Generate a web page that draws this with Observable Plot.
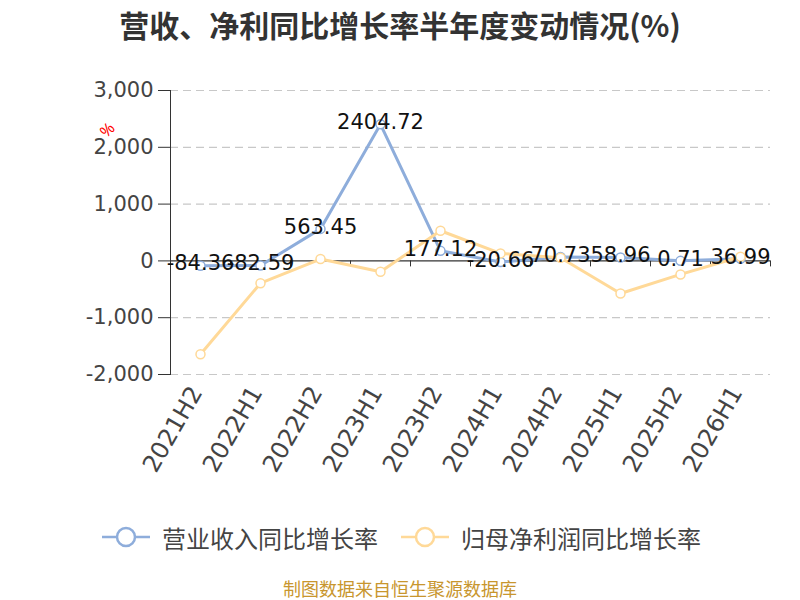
<!DOCTYPE html>
<html>
<head>
<meta charset="utf-8">
<script src="https://cdn.jsdelivr.net/npm/d3@7"></script>
<script src="https://cdn.jsdelivr.net/npm/@observablehq/plot@0.6"></script>
<style>
  html, body { margin: 0; padding: 0; background: #fff; }
  #page { position: relative; width: 800px; height: 600px; overflow: hidden; font-family: "Noto Sans CJK SC", "Noto Sans", sans-serif; }
  #title { position: absolute; left: 0; top: 0; width: 800px; height: 48px; line-height: 48px; text-align: center; font-size: 30px; font-weight: bold; color: #333; }
  #chart { position: absolute; left: 0; top: 60px; }
  #legend { position: absolute; left: 0; top: 519px; width: 800px; height: 36px; }
  .item { position: absolute; top: 0; height: 36px; display: flex; align-items: center; font-size: 24px; color: #444; }
  .item svg { margin-right: 12px; }
  #caption { position: absolute; left: 0; top: 576px; width: 800px; height: 24px; line-height: 24px; text-align: center; font-size: 18px; color: #c8962e; }
</style>
</head>
<body>
<div id="page">
  <div id="title">营收、净利同比增长率半年度变动情况(%)</div>
  <div id="chart"></div>
  <div id="legend"></div>
  <div id="caption">制图数据来自恒生聚源数据库</div>
</div>
<script>
const categories = ["2021H2", "2022H1", "2022H2", "2023H1", "2023H2", "2024H1", "2024H2", "2025H1", "2025H2", "2026H1"];
const revenueGrowth = [-84.36, -82.59, 563.45, 2404.72, 177.12, -20.66, 70.73, 58.96, 0.71, 36.99];
const profitGrowth = [-1645, -392, 32, -192, 531, 132, 55, -573, -238, 72];
const yTicks = [-2000, -1000, 0, 1000, 2000, 3000];
const seriesNames = ["营业收入同比增长率", "归母净利润同比增长率"];
const seriesColors = ["#8eaddb", "#ffd998"];

const revData = categories.map((c, i) => ({cat: c, value: revenueGrowth[i]}));
const profData = categories.map((c, i) => ({cat: c, value: profitGrowth[i]}));

const width = 800, height = 440;
const marginLeft = 170, marginRight = 30, marginTop = 30, marginBottom = 126;
const step = (width - marginLeft - marginRight) / categories.length;
const axisColor = "#333";
const numFont = "'DejaVu Sans', 'Noto Sans', sans-serif";

const chart = Plot.plot({
  width, height, marginLeft, marginRight, marginTop, marginBottom,
  style: {fontFamily: numFont, background: "#fff"},
  x: {type: "point", domain: categories, padding: 0.5},
  y: {domain: [yTicks[0], yTicks[yTicks.length - 1]]},
  marks: [
    Plot.gridY(yTicks.filter(d => d !== 0), {stroke: "#c8c8c8", strokeOpacity: 1, strokeDasharray: "8,5", strokeWidth: 1.2}),
    Plot.axisY({ticks: yTicks, tickSize: 12, tickPadding: 5, fontSize: 21, tickFormat: d => d.toLocaleString("en-US"), stroke: axisColor, fill: "#444", label: null}),
    Plot.axisX({tickSize: 0, tickRotate: -60, tickPadding: 14, dx: -4, fontSize: 24, fill: "#444", label: null}),
    Plot.frame({anchor: "left", stroke: axisColor}),
    Plot.ruleY([0], {stroke: axisColor, strokeWidth: 1.2}),
    Plot.ruleX(categories, {x: d => d, y1: 0, y2: 0, insetBottom: -6, dx: -step / 2, stroke: axisColor}),
    Plot.ruleX(categories.slice(-1), {x: d => d, y1: 0, y2: 0, insetBottom: -6, dx: step / 2, stroke: axisColor}),
    Plot.line(revData, {x: "cat", y: "value", stroke: seriesColors[0], strokeWidth: 3}),
    Plot.dot(revData, {x: "cat", y: "value", r: 4.5, fill: "#fff", stroke: seriesColors[0], strokeWidth: 1.5}),
    Plot.line(profData, {x: "cat", y: "value", stroke: seriesColors[1], strokeWidth: 3}),
    Plot.dot(profData, {x: "cat", y: "value", r: 4.5, fill: "#fff", stroke: seriesColors[1], strokeWidth: 1.5}),
    Plot.text(revData, {x: "cat", y: "value", text: d => String(d.value), fontSize: 21, fill: "#111", dy: -2, lineAnchor: "middle"}),
    Plot.text(["%"], {frameAnchor: "top-left", text: d => d, dx: -72, dy: 40, rotate: -45, fill: "#ff0000", fontSize: 16, fontFamily: "'Noto Sans', sans-serif"})
  ]
});
document.getElementById("chart").appendChild(chart);

// legend
const legend = document.getElementById("legend");
const lefts = [102, 401];
seriesNames.forEach((name, i) => {
  const item = document.createElement("div");
  item.className = "item";
  item.style.left = lefts[i] + "px";
  item.innerHTML = `<svg width="48" height="24" viewBox="0 0 48 24"><line x1="0" y1="12" x2="48" y2="12" stroke="${seriesColors[i]}" stroke-width="2.5"/><circle cx="24" cy="12" r="9" fill="#fff" stroke="${seriesColors[i]}" stroke-width="2.5"/></svg><span>${name}</span>`;
  legend.appendChild(item);
});
</script>
</body>
</html>
